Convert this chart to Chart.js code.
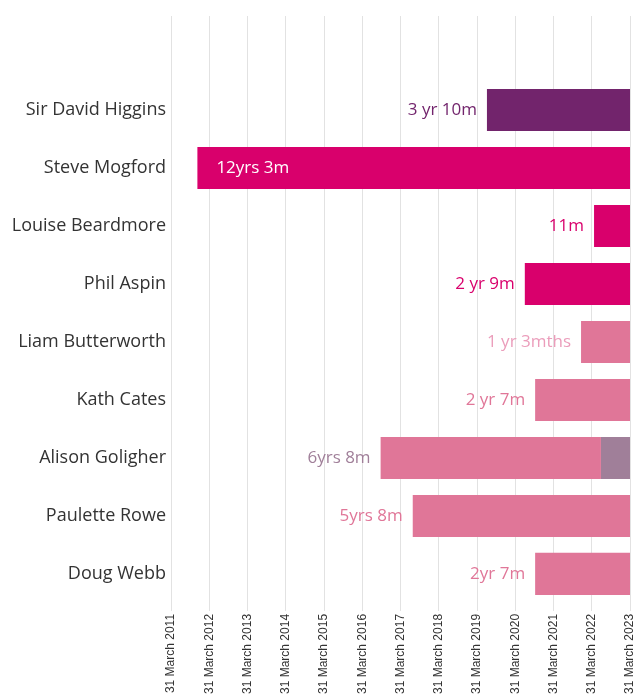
<!DOCTYPE html>
<html>
<head>
<meta charset="utf-8">
<script src="https://cdn.jsdelivr.net/npm/chart.js@4/dist/chart.umd.min.js"></script>
<style>
  html, body { margin: 0; padding: 0; background: #fff; }
  #wrap { width: 633px; height: 697px; }
</style>
</head>
<body>
<div id="wrap"><canvas id="tenure"></canvas></div>
<script>
// people in the order they appear, top to bottom
const names = ["Sir David Higgins", "Steve Mogford", "Louise Beardmore", "Phil Aspin",
  "Liam Butterworth", "Kath Cates", "Alison Goligher", "Paulette Rowe", "Doug Webb"];
// start of each tenure, in years (2011 = 31 March 2011)
const starts = [2019.26, 2011.69, 2022.06, 2020.25, 2021.72, 2020.52, 2016.48, 2017.32, 2020.52];
// end of the main bar
const ends = [2023, 2023, 2023, 2023, 2023, 2023, 2022.24, 2023, 2023];
// extra segment for Alison Goligher
const extraStart = 2022.24;
const extraEnd = 2023;
const tenureText = ["3 yr 10m", "12yrs 3m", "11m", "2 yr 9m", "1 yr 3mths", "2 yr 7m", "6yrs 8m", "5yrs 8m", "2yr 7m"];
const barColors = ["#72246c", "#d9006c", "#d9006c", "#d9006c", "#e07698", "#e07698", "#e07698", "#e07698", "#e07698"];
const textColors = ["#72246c", "#ffffff", "#d9006c", "#d9006c", "#eb9dbb", "#e07698", "#a07f99", "#e07698", "#e07698"];
const yearTicks = { min: 2011, max: 2023 };

const labelFont = "'Open Sans', sans-serif";

// draws the tenure text next to (or inside) each bar
const tenureLabels = {
  id: "tenureLabels",
  afterDatasetsDraw(chart) {
    const ctx = chart.ctx;
    const meta = chart.getDatasetMeta(0);
    ctx.save();
    ctx.font = "17px " + labelFont;
    ctx.textBaseline = "middle";
    meta.data.forEach((bar, i) => {
      const left = Math.min(bar.base, bar.x);
      ctx.fillStyle = textColors[i];
      if (i === 1) { // long bar, text sits inside
        ctx.textAlign = "left";
        ctx.fillText(tenureText[i], left + 19, bar.y);
      } else {
        ctx.textAlign = "right";
        ctx.fillText(tenureText[i], left - 10, bar.y);
      }
    });
    ctx.restore();
  }
};

const extraData = names.map((n, i) => i === 6 ? [extraStart, extraEnd] : null);

new Chart(document.getElementById("tenure"), {
  type: "bar",
  data: {
    labels: names,
    datasets: [
      {
        data: starts.map((s, i) => [s, ends[i]]),
        backgroundColor: barColors,
        grouped: false,
        barPercentage: 0.727,
        categoryPercentage: 1
      },
      {
        data: extraData,
        backgroundColor: "#a07f99",
        grouped: false,
        barPercentage: 0.727,
        categoryPercentage: 1
      }
    ]
  },
  options: {
    indexAxis: "y",
    responsive: true,
    maintainAspectRatio: false,
    animation: false,
    layout: { padding: { left: 0, right: 3, top: 16, bottom: 0 } },
    plugins: {
      legend: { display: false },
      tooltip: { enabled: false }
    },
    scales: {
      x: {
        type: "linear",
        position: "bottom",
        min: yearTicks.min,
        max: yearTicks.max,
        border: { display: false },
        grid: { color: "#e2e2e2", tickLength: 8 },
        ticks: {
          stepSize: 1,
          minRotation: 90,
          maxRotation: 90,
          padding: 3,
          color: "#333",
          font: { family: "'Liberation Sans', Arial, sans-serif", size: 12 },
          callback: v => "31 March " + v
        },
        afterFit: s => { s.paddingRight = 0; s.paddingLeft = 0; }
      },
      xTop: {
        type: "linear",
        position: "top",
        min: yearTicks.min,
        max: yearTicks.max,
        border: { display: false },
        grid: { color: "#e2e2e2", drawOnChartArea: false, tickLength: 65 },
        ticks: { stepSize: 1, display: false },
        afterFit: s => { s.paddingRight = 0; s.paddingLeft = 0; }
      },
      y: {
        border: { display: false },
        grid: { display: false, drawTicks: false },
        ticks: {
          color: "#333",
          padding: 5,
          font: { family: labelFont, size: 18 }
        },
        afterFit: s => { s.width = 171; }
      }
    }
  },
  plugins: [tenureLabels]
});
</script>
</body>
</html>
